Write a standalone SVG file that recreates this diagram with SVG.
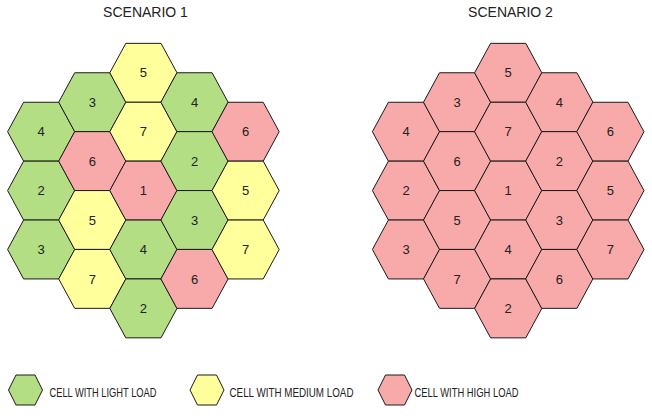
<svg xmlns="http://www.w3.org/2000/svg" xmlns:xlink="http://www.w3.org/1999/xlink" width="652" height="419" viewBox="0 0 652 419">
<style>
.g{fill:#B3DE83}.y{fill:#FFFF9B}.r{fill:#F8A9A9}
.h{stroke:#1a1a1a;stroke-width:1;stroke-linejoin:miter}
.n{font-family:"Liberation Sans",Arial,sans-serif;font-size:13px;fill:#222;text-anchor:middle}
.t{font-family:"Liberation Sans",Arial,sans-serif;font-size:14px;fill:#222;text-anchor:middle}
.l{font-family:"Liberation Sans",Arial,sans-serif;font-size:12px;fill:#222}
</style>
<defs>
<polygon id="hex" points="-33.6,0 -17.6,-29.45 17.6,-29.45 33.6,0 17.6,29.45 -17.6,29.45"/>
<polygon id="lhex" points="-17,0 -9.5,-15 9.5,-15 17,0 9.5,15 -9.5,15"/>
</defs>
<rect width="652" height="419" fill="#fff"/>
<text class="t" x="145.5" y="17">SCENARIO 1</text>
<text class="t" x="510.5" y="17">SCENARIO 2</text>
<g id="s1">
<g id="s1-c0-4" transform="translate(41.2,131.7)"><use xlink:href="#hex" class="h g"/><text class="n" y="4.6">4</text></g>
<g id="s1-c0-2" transform="translate(41.2,190.6)"><use xlink:href="#hex" class="h g"/><text class="n" y="4.6">2</text></g>
<g id="s1-c0-3" transform="translate(41.2,249.5)"><use xlink:href="#hex" class="h g"/><text class="n" y="4.6">3</text></g>
<g id="s1-c1-3" transform="translate(92.3,102.2)"><use xlink:href="#hex" class="h g"/><text class="n" y="4.6">3</text></g>
<g id="s1-c1-6" transform="translate(92.3,161.1)"><use xlink:href="#hex" class="h r"/><text class="n" y="4.6">6</text></g>
<g id="s1-c1-5" transform="translate(92.3,220)"><use xlink:href="#hex" class="h y"/><text class="n" y="4.6">5</text></g>
<g id="s1-c1-7" transform="translate(92.3,278.9)"><use xlink:href="#hex" class="h y"/><text class="n" y="4.6">7</text></g>
<g id="s1-c2-5" transform="translate(143.4,72.8)"><use xlink:href="#hex" class="h y"/><text class="n" y="4.6">5</text></g>
<g id="s1-c2-7" transform="translate(143.4,131.7)"><use xlink:href="#hex" class="h y"/><text class="n" y="4.6">7</text></g>
<g id="s1-c2-1" transform="translate(143.4,190.6)"><use xlink:href="#hex" class="h r"/><text class="n" y="4.6">1</text></g>
<g id="s1-c2-4" transform="translate(143.4,249.5)"><use xlink:href="#hex" class="h g"/><text class="n" y="4.6">4</text></g>
<g id="s1-c2-2" transform="translate(143.4,308.4)"><use xlink:href="#hex" class="h g"/><text class="n" y="4.6">2</text></g>
<g id="s1-c3-4" transform="translate(194.5,102.2)"><use xlink:href="#hex" class="h g"/><text class="n" y="4.6">4</text></g>
<g id="s1-c3-2" transform="translate(194.5,161.1)"><use xlink:href="#hex" class="h g"/><text class="n" y="4.6">2</text></g>
<g id="s1-c3-3" transform="translate(194.5,220)"><use xlink:href="#hex" class="h g"/><text class="n" y="4.6">3</text></g>
<g id="s1-c3-6" transform="translate(194.5,278.9)"><use xlink:href="#hex" class="h r"/><text class="n" y="4.6">6</text></g>
<g id="s1-c4-6" transform="translate(245.6,131.7)"><use xlink:href="#hex" class="h r"/><text class="n" y="4.6">6</text></g>
<g id="s1-c4-5" transform="translate(245.6,190.6)"><use xlink:href="#hex" class="h y"/><text class="n" y="4.6">5</text></g>
<g id="s1-c4-7" transform="translate(245.6,249.5)"><use xlink:href="#hex" class="h y"/><text class="n" y="4.6">7</text></g>
</g>
<g id="s2">
<g id="s2-c0-4" transform="translate(406,131.7)"><use xlink:href="#hex" class="h r"/><text class="n" y="4.6">4</text></g>
<g id="s2-c0-2" transform="translate(406,190.6)"><use xlink:href="#hex" class="h r"/><text class="n" y="4.6">2</text></g>
<g id="s2-c0-3" transform="translate(406,249.5)"><use xlink:href="#hex" class="h r"/><text class="n" y="4.6">3</text></g>
<g id="s2-c1-3" transform="translate(457.1,102.2)"><use xlink:href="#hex" class="h r"/><text class="n" y="4.6">3</text></g>
<g id="s2-c1-6" transform="translate(457.1,161.1)"><use xlink:href="#hex" class="h r"/><text class="n" y="4.6">6</text></g>
<g id="s2-c1-5" transform="translate(457.1,220)"><use xlink:href="#hex" class="h r"/><text class="n" y="4.6">5</text></g>
<g id="s2-c1-7" transform="translate(457.1,278.9)"><use xlink:href="#hex" class="h r"/><text class="n" y="4.6">7</text></g>
<g id="s2-c2-5" transform="translate(508.2,72.8)"><use xlink:href="#hex" class="h r"/><text class="n" y="4.6">5</text></g>
<g id="s2-c2-7" transform="translate(508.2,131.7)"><use xlink:href="#hex" class="h r"/><text class="n" y="4.6">7</text></g>
<g id="s2-c2-1" transform="translate(508.2,190.6)"><use xlink:href="#hex" class="h r"/><text class="n" y="4.6">1</text></g>
<g id="s2-c2-4" transform="translate(508.2,249.5)"><use xlink:href="#hex" class="h r"/><text class="n" y="4.6">4</text></g>
<g id="s2-c2-2" transform="translate(508.2,308.4)"><use xlink:href="#hex" class="h r"/><text class="n" y="4.6">2</text></g>
<g id="s2-c3-4" transform="translate(559.3,102.2)"><use xlink:href="#hex" class="h r"/><text class="n" y="4.6">4</text></g>
<g id="s2-c3-2" transform="translate(559.3,161.1)"><use xlink:href="#hex" class="h r"/><text class="n" y="4.6">2</text></g>
<g id="s2-c3-3" transform="translate(559.3,220)"><use xlink:href="#hex" class="h r"/><text class="n" y="4.6">3</text></g>
<g id="s2-c3-6" transform="translate(559.3,278.9)"><use xlink:href="#hex" class="h r"/><text class="n" y="4.6">6</text></g>
<g id="s2-c4-6" transform="translate(610.4,131.7)"><use xlink:href="#hex" class="h r"/><text class="n" y="4.6">6</text></g>
<g id="s2-c4-5" transform="translate(610.4,190.6)"><use xlink:href="#hex" class="h r"/><text class="n" y="4.6">5</text></g>
<g id="s2-c4-7" transform="translate(610.4,249.5)"><use xlink:href="#hex" class="h r"/><text class="n" y="4.6">7</text></g>
</g>
<g id="legend">
<g id="leg-light"><use xlink:href="#lhex" class="h g" transform="translate(25.5,390)"/><text class="l" x="49.5" y="397" textLength="107" lengthAdjust="spacingAndGlyphs">CELL WITH LIGHT LOAD</text></g>
<g id="leg-medium"><use xlink:href="#lhex" class="h y" transform="translate(207,390)"/><text class="l" x="229.5" y="397" textLength="124" lengthAdjust="spacingAndGlyphs">CELL WITH MEDIUM LOAD</text></g>
<g id="leg-high"><use xlink:href="#lhex" class="h r" transform="translate(395,390)"/><text class="l" x="414.5" y="397" textLength="104" lengthAdjust="spacingAndGlyphs">CELL WITH HIGH LOAD</text></g>
</g>
<g id="connectors"/>
</svg>
